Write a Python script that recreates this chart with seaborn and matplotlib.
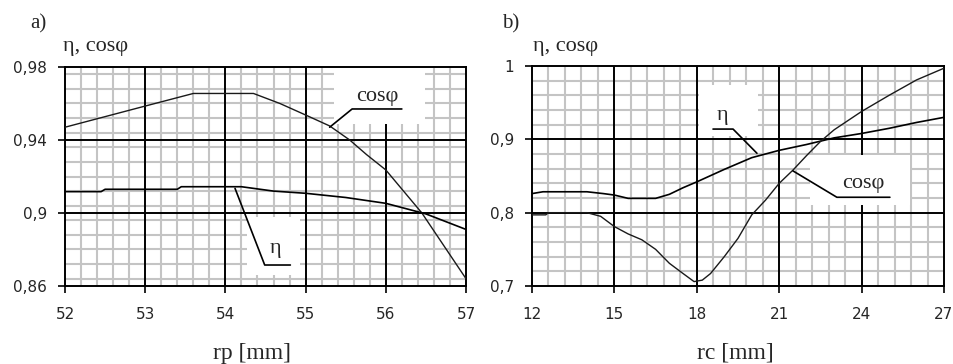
import matplotlib as mpl
mpl.use('agg')
import matplotlib.pyplot as plt
from matplotlib.ticker import MultipleLocator, FuncFormatter
from matplotlib.patches import Rectangle
import seaborn as sns
import pandas as pd

# panel a) - rotor diameter rp
rp = [52, 52.5, 53, 53.6, 54.35, 54.68, 55, 55.3, 55.55, 55.76, 56, 56.45, 57]
cos_a = [0.947, 0.9528, 0.9586, 0.9655, 0.9655, 0.960, 0.9537, 0.9477, 0.940, 0.932, 0.9236, 0.900, 0.864]
rp_eta = [52, 52.45, 52.5, 53.4, 53.45, 54.2, 54.6, 55, 55.5, 56, 56.5, 57]
eta_a = [0.9117, 0.9117, 0.913, 0.913, 0.9144, 0.9144, 0.912, 0.9108, 0.9085, 0.9053, 0.8995, 0.891]

# panel b) - rc
rc = [12, 12.4, 14, 14.6, 15, 15.5, 16.5, 17, 17.5, 18, 19, 20, 21, 22, 23, 24, 25, 26, 27]
eta_b = [0.826, 0.8285, 0.8285, 0.826, 0.824, 0.8195, 0.8195, 0.825, 0.834, 0.842, 0.859, 0.875,
         0.885, 0.893, 0.902, 0.908, 0.915, 0.923, 0.930]
rc_cos = [12, 12.5, 12.6, 14, 14.5, 15, 15.5, 16, 16.5, 17, 17.5, 17.9, 18.2, 18.5, 19, 19.5, 20,
          20.5, 21, 21.5, 22, 22.5, 23, 24, 25, 26, 27]
cos_b = [0.797, 0.797, 0.800, 0.800, 0.795, 0.781, 0.771, 0.763, 0.750, 0.731, 0.717, 0.706, 0.708,
         0.717, 0.740, 0.765, 0.797, 0.817, 0.840, 0.858, 0.878, 0.897, 0.913, 0.938, 0.960, 0.981, 0.997]

sns.set_style("white")
plt.rcParams['font.family'] = ['DejaVu Sans']
SERIF = ['Liberation Serif', 'DejaVu Serif']


def comma(v, pos):
    return "{:g}".format(round(v, 3)).replace(".", ",")


def setup_axes(ax, xlim, ylim, xmaj, xmin, yticks, ymin):
    ax.set_xlim(*xlim)
    ax.set_ylim(*ylim)
    ax.xaxis.set_major_locator(MultipleLocator(xmaj))
    ax.xaxis.set_minor_locator(MultipleLocator(xmin))
    ax.set_yticks(yticks)
    ax.yaxis.set_minor_locator(MultipleLocator(ymin))
    ax.yaxis.set_major_formatter(FuncFormatter(comma))
    ax.set_axisbelow(True)
    ax.grid(which='minor', color='#c4c4c4', lw=1.5)
    ax.grid(which='major', visible=False)
    # major grid drawn on top of the minor one
    for t in ax.get_xticks():
        if xlim[0] < t < xlim[1]:
            ax.axvline(t, color='black', lw=1.4, zorder=0.8)
    for t in yticks:
        if ylim[0] < t < ylim[1]:
            ax.axhline(t, color='black', lw=1.4, zorder=0.8)
    ax.set_xlim(*xlim)
    ax.tick_params(which='major', direction='out', length=5, width=1.2, color='black',
                   labelsize=11, left=True, bottom=True)
    ax.tick_params(axis='y', pad=8)
    ax.tick_params(axis='x', pad=10)
    ax.tick_params(which='minor', length=0)
    for s in ax.spines.values():
        s.set_color('black')
        s.set_linewidth(1.4)
    ax.set_xlabel("")
    ax.set_ylabel("")


def mask(ax, x0, x1, y0, y1):
    ax.add_patch(Rectangle((x0, y0), x1 - x0, y1 - y0, facecolor='white', edgecolor='none', zorder=1))


def callout(ax, xs, ys, label, lx, ly):
    ax.plot(xs, ys, color='black', lw=1.2, zorder=4)
    ax.text(lx, ly, label, ha='center', va='center', fontsize=16, family=SERIF, zorder=5)


fig = plt.figure(figsize=(9.54, 3.64), dpi=100)
ax1 = fig.add_axes([65 / 954, 78 / 364, 401 / 954, 219 / 364])
ax2 = fig.add_axes([532 / 954, 78 / 364, 412 / 954, 220 / 364])

df_a1 = pd.DataFrame({"x": rp, "y": cos_a})
df_a2 = pd.DataFrame({"x": rp_eta, "y": eta_a})
sns.lineplot(data=df_a1, x="x", y="y", ax=ax1, color='#1a1a1a', lw=1.0, estimator=None, zorder=3)
sns.lineplot(data=df_a2, x="x", y="y", ax=ax1, color='black', lw=1.2, estimator=None, zorder=3)
setup_axes(ax1, (52, 57), (0.86, 0.98), 1, 0.2, [0.86, 0.9, 0.94, 0.98], 0.008)
mask(ax1, 55.36, 56.49, 0.949, 0.98)
mask(ax1, 54.27, 54.93, 0.866, 0.898)
callout(ax1, [55.30, 55.58, 56.20], [0.947, 0.957, 0.957], "cosφ", 55.90, 0.9636)
callout(ax1, [54.12, 54.49, 54.81], [0.9135, 0.8715, 0.8715], "η", 54.62, 0.8808)

df_b1 = pd.DataFrame({"x": rc, "y": eta_b})
df_b2 = pd.DataFrame({"x": rc_cos, "y": cos_b})
sns.lineplot(data=df_b1, x="x", y="y", ax=ax2, color='black', lw=1.2, estimator=None, zorder=3)
sns.lineplot(data=df_b2, x="x", y="y", ax=ax2, color='#1a1a1a', lw=1.0, estimator=None, zorder=3)
setup_axes(ax2, (12, 27), (0.7, 1.0), 3, 0.6, [0.7, 0.8, 0.9, 1.0], 0.02)
mask(ax2, 18.08, 20.23, 0.904, 0.974)
mask(ax2, 22.12, 25.76, 0.810, 0.879)
callout(ax2, [18.59, 19.32, 20.19], [0.914, 0.914, 0.881], "η", 18.95, 0.933)
callout(ax2, [21.50, 23.10, 25.03], [0.857, 0.821, 0.821], "cosφ", 24.05, 0.840)

# panel letters, axis titles
fig.text(30 / 954, 1 - 24 / 364, "a)", fontsize=15, family=SERIF, va='center')
fig.text(502 / 954, 1 - 24 / 364, "b)", fontsize=15, family=SERIF, va='center')
fig.text(63 / 954, 1 - 47 / 364, "η, cosφ", fontsize=16, family=SERIF, va='center')
fig.text(533 / 954, 1 - 47 / 364, "η, cosφ", fontsize=16, family=SERIF, va='center')
fig.text(252 / 954, 1 - 353 / 364, "rp [mm]", fontsize=17, family=SERIF, ha='center', va='center')
fig.text(735 / 954, 1 - 353 / 364, "rc [mm]", fontsize=17, family=SERIF, ha='center', va='center')

plt.savefig("out.png", dpi=100)
plt.close()
